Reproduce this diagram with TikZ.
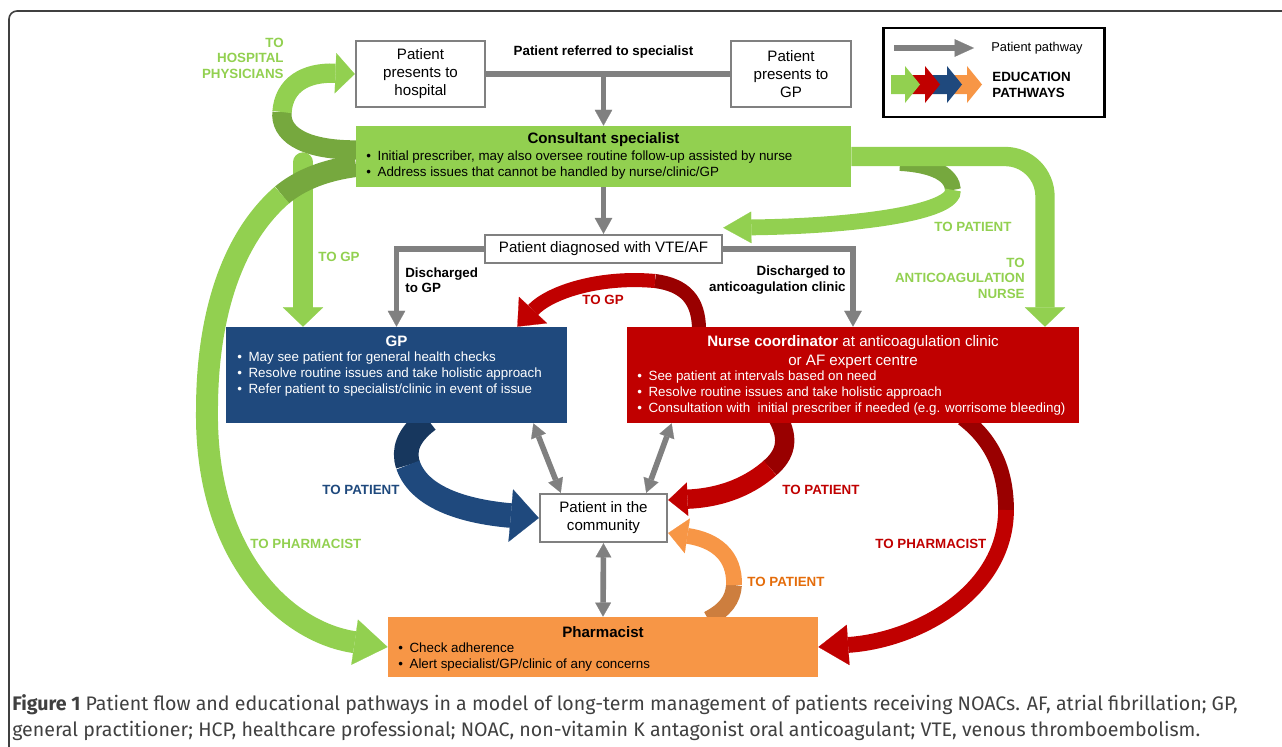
\documentclass[tikz,border=0pt]{standalone}
\usepackage{fontspec}
\setmainfont{Liberation Sans}
\newfontfamily\capfont{Fira Sans}
\usetikzlibrary{arrows.meta,positioning,fit,calc}

\definecolor{grn}{HTML}{92D050}
\definecolor{grnd}{HTML}{76A83E}
\definecolor{rd}{HTML}{C00000}
\definecolor{rdd}{HTML}{990000}
\definecolor{blu}{HTML}{1F497D}
\definecolor{blud}{HTML}{17375E}
\definecolor{org}{HTML}{F79646}
\definecolor{orgd}{HTML}{CD7E3E}
\definecolor{orgt}{HTML}{E46C0A}
\definecolor{gry}{HTML}{808080}
\definecolor{capcol}{HTML}{404040}

\pgfdeclarelayer{ribbons}
\pgfsetlayers{ribbons,main}

\newcommand{\itm}{\makebox[6.4pt][l]{\textbullet}}

\begin{document}
\begin{tikzpicture}[x=0.02cm, y=-0.02cm,
  pbox/.style={draw=gry, line width=1.4pt, fill=white, inner sep=0pt},
  ptxt/.style={font=\fontsize{8.6}{10.2}\selectfont, align=center, inner sep=0pt},
  cbox/.style={inner sep=0pt},
  ttl/.style={font=\bfseries\fontsize{8.6}{10.8}\selectfont, align=center, inner sep=0pt},
  bul/.style={font=\fontsize{7.6}{9.07}\selectfont, align=left, anchor=west, inner sep=0pt},
  lbl/.style={font=\bfseries\fontsize{7.6}{8.8}\selectfont, inner sep=0pt},
  gline/.style={draw=gry, line width=3pt},
  garrow/.style={gline, -{Triangle[width=10pt,length=9pt,line width=0.1pt]}},
  dblarrow/.style={draw=gry, line width=3.2pt,
    {Triangle[width=9pt,length=8pt,line width=0.1pt]}-{Triangle[width=9pt,length=8pt,line width=0.1pt]}},
  rib/.style={line width=11pt},
  hd/.style={-{Triangle[width=23pt,length=11pt,line width=0.1pt]}}
]
\useasboundingbox (0,0) rectangle (1282,747);

% frame and caption
\draw[capcol, line width=0.9pt, rounded corners=0.16cm] (9,747) -- (9,11) -- (1282,11);
\node[anchor=west, inner sep=0pt, text=capcol, font=\capfont\fontsize{11.15}{14}\selectfont] (cap1) at (12,705)
  {\textbf{Figure 1} Patient flow and educational pathways in a model of long-term management of patients receiving NOACs. AF, atrial fibrillation; GP,};
\node[anchor=west, inner sep=0pt, text=capcol, font=\capfont\fontsize{11.15}{14}\selectfont] (cap2) at (12,731)
  {general practitioner; HCP, healthcare professional; NOAC, non-vitamin K antagonist oral anticoagulant; VTE, venous thromboembolism.};

% boxes
\node[pbox, fit={(356,41) (485,107)}] (hosp) {};
\node[pbox, fit={(731,41) (851,107)}] (gpin) {};
\node[cbox, fill=grn, fit={(356,126) (851,187)}] (spec) {};
\node[pbox, fit={(485,235) (722,263)}] (diag) {};
\node[cbox, fill=blu, fit={(226,327) (567,423)}] (gp) {};
\node[cbox, fill=rd, fit={(627,327) (1079,423)}] (nurse) {};
\node[pbox, fit={(540,494) (667,542)}] (com) {};
\node[cbox, fill=org, fit={(388,617) (818,677)}] (ph) {};
\node[draw=black, line width=1.7pt, inner sep=0pt, fit={(883,28) (1104,117)}] (leg) {};

% box texts
\node[ptxt] (hospt) at (hosp.center) {Patient\\presents to\\hospital};
\node[ptxt] (gpint) at (gpin.center) {Patient\\presents to\\GP};
\node[ptxt] (diagt) at (diag.center) {Patient diagnosed with VTE/AF};
\node[ptxt] (comt) at (com.center) {Patient in the\\community};
\node[ttl] (spect) at (603.5,140) {Consultant specialist};
\node[bul] (specb) at (366,165) {\itm Initial prescriber, may also oversee routine follow-up assisted by nurse\\
  \itm Address issues that cannot be handled by nurse/clinic/GP};
\node[ttl, text=white] (gpt) at (396.5,341) {GP};
\node[bul, text=white] (gpb) at (237,374) {\itm May see patient for general health checks\\
  \itm Resolve routine issues and take holistic approach\\
  \itm Refer patient to specialist/clinic in event of issue};
\node[ttl, text=white, font=\fontsize{8.6}{10.8}\selectfont] (nurset) at (853,352.5)
  {\textbf{Nurse coordinator} at anticoagulation clinic\\or AF expert centre};
\node[bul, text=white] (nurseb) at (637,393) {\itm See patient at intervals based on need\\
  \itm Resolve routine issues and take holistic approach\\
  \itm Consultation with~ initial prescriber if needed (e.g. worrisome bleeding)};
\node[ttl] (pht) at (603,632) {Pharmacist};
\node[bul] (phb) at (398,657) {\itm Check adherence\\
  \itm Alert specialist/GP/clinic of any concerns};

% patient pathway
\node[lbl] (refd) at (603.5,52) {Patient referred to specialist};
\draw[gline] (hosp.east) -- (gpin.west);
\draw[garrow] (spec.north |- hosp.east) -- (spec.north);
\draw[garrow] (spec.south) -- (diag.north);
\draw[garrow] (diag.west) -| (gp.north);
\draw[garrow] (diag.east) -| (nurse.north);
\node[lbl, align=left, anchor=west] (dgp) at (405,280) {Discharged\\to GP};
\node[lbl, align=right, anchor=east] (dcl) at (846,280) {Discharged to\\anticoagulation clinic};
\draw[dblarrow] ($(gp.south east)+(-34,0)$) -- ($(com.north west)+(22,0)$);
\draw[dblarrow] ($(nurse.south west)+(45,0)$) -- ($(com.north east)+(-22,0)$);
\draw[dblarrow] (com.south) -- (ph.north);

% legend
\draw[gline, -{Triangle[width=10pt,length=11pt,line width=0.1pt]}] (894,48) -- (974,48);
\node[anchor=west, inner sep=0pt, font=\fontsize{7.3}{9}\selectfont] (legp) at (991,48) {Patient pathway};
\foreach \c/\a/\b in {org/950/967, blu/928/947, rd/907/925, grn/891/905}
  \fill[\c] (\a,75) -- (\b,75) -- (\b,66) -- (\b+15,84.5) -- (\b,103) -- (\b,94) -- (\a,94) -- cycle;
\node[lbl, align=left, anchor=west, font=\bfseries\fontsize{7.6}{9}\selectfont] (lege) at (992,85) {EDUCATION\\PATHWAYS};

% education pathways
\coordinate (gpsrc) at (303,162);
\coordinate (ntop) at (1045,200);
\begin{pgfonlayer}{ribbons}
  % green
  \draw[rib, grn, hd, line cap=round] (gpsrc) -- (gpsrc |- gp.north);
  \draw[rib, grnd] (356,150) .. controls (300,150) and (280,132) .. (282,112);
  \draw[rib, grn, hd] (282,112) .. controls (284,85) and (305,72) .. (hosp.west);
  \draw[grnd, line width=12.5pt] (356,166) .. controls (325,170) and (300,180) .. (282,195);
  \draw[grn, line width=12.5pt, -{Triangle[width=26pt,length=19pt,line width=0.1pt]}]
    (282,195) .. controls (230,240) and (207,320) .. (207,410) .. controls (205,555) and (285,632) .. (ph.west);
  \draw[grnd, line width=9pt] (900,163) .. controls (935,165) and (952,175) .. (953,190);
  \draw[grn, line width=9pt, -{Triangle[width=18pt,length=16pt,line width=0.1pt]}]
    (953,190) .. controls (955,212) and (860,226) .. ($(diag.north east)+(0,-6)$);
  \draw[rib, grn, hd, rounded corners=0.8cm] (spec.east) -| (ntop |- nurse.north);
  % red
  \draw[rdd, line width=8pt] (699,330) .. controls (699,300) and (685,285) .. (655,281);
  \draw[rd, line width=8pt, -{Triangle[width=22pt,length=13pt,line width=0.1pt]}]
    (655,281) .. controls (600,276) and (550,292) .. ($(gp.north east)+(-50,0)$);
  \draw[rdd, line width=11pt] (778,418) .. controls (790,440) and (785,455) .. (770,468);
  \draw[rd, line width=11pt, -{Triangle[width=19pt,length=11pt,line width=0.1pt]}]
    (770,468) .. controls (745,490) and (715,498) .. ($(com.east)+(0,-18)$);
  \draw[rdd, line width=9pt] (963,418) .. controls (992,440) and (1006,470) .. (1006,510);
  \draw[rd, line width=9pt, -{Triangle[width=23pt,length=17pt,line width=0.1pt]}]
    (1006,510) .. controls (1006,590) and (920,640) .. (ph.east);
  % blue
  \draw[blud, line width=14pt] (428,420) .. controls (408,435) and (403,450) .. (408,465);
  \draw[blu, line width=14pt, -{Triangle[width=30pt,length=16pt,line width=0.1pt]}]
    (408,465) .. controls (420,500) and (470,512) .. (com.west);
  % orange
  \draw[orgd, line width=9pt] (708,619) .. controls (725,610) and (733,600) .. (734,585);
  \draw[org, line width=9pt, -{Triangle[width=20pt,length=11pt,line width=0.1pt]}]
    (734,585) .. controls (735,555) and (715,540) .. ($(com.east)+(0,15)$);
\end{pgfonlayer}

% labels
\node[lbl, text=grn, align=right, anchor=east] (lhosp) at (284,58) {TO\\HOSPITAL\\PHYSICIANS};
\node[lbl, text=grn, anchor=west] (lgp) at (318,257) {TO GP};
\node[lbl, text=grn, anchor=west] (lpat) at (934,227) {TO PATIENT};
\node[lbl, text=grn, align=right, anchor=east] (lnur) at (1025,278) {TO\\ANTICOAGULATION\\NURSE};
\node[lbl, text=rd, anchor=west] (lrgp) at (582,300) {TO GP};
\node[lbl, text=blu, anchor=west] (lbpat) at (322,490) {TO PATIENT};
\node[lbl, text=rd, anchor=west] (lrpat) at (782,490) {TO PATIENT};
\node[lbl, text=grn, anchor=west] (lgph) at (250,544) {TO PHARMACIST};
\node[lbl, text=rd, anchor=west] (lrph) at (875,544) {TO PHARMACIST};
\node[lbl, text=orgt, anchor=west] (lopat) at (747,582) {TO PATIENT};

\end{tikzpicture}
\end{document}
